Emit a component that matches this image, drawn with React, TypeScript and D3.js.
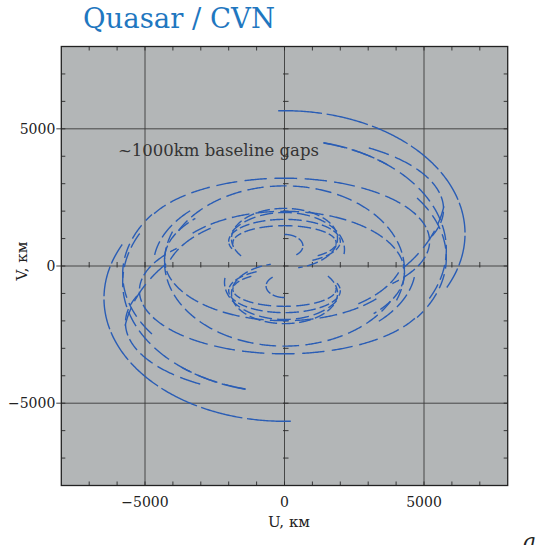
import React from 'react';
import * as d3 from 'd3';

const W = 543;
const H = 545;

const uDomain: [number, number] = [-8000, 8000];
const vDomain: [number, number] = [-8000, 8000];
const gridValues = [-5000, 0, 5000];
const tickLabels = ['\u22125000', '0', '5000'];
const minorStep = 1000;

const titleText = 'Quasar / CVN';
const noteText = '~1000km baseline gaps';
const uLabel = 'U, км';
const vLabel = 'V, км';
const panelLetter = 'a';

// uv tracks: u = a sin(h), v = v0 + b cos(h) (km), h = hour angle in degrees;
// each track is also drawn as its conjugate (-u, -v)
const trackA = [6470, 5800, 5760, 5700, 5200, 4300, 4300, 1900, 2000, 1850, 660, 5800, 5800, 4700, 4300, 2150];
const trackB = [4480, 4000, 3960, 2630, 2300, 3070, 2233, 1100, 800, 620, 420, 4430, 3800, 2900, 2380, 1350];
const trackV0 = [1180, 600, 650, 2074, 900, -150, -240, 1000, 900, 850, 730, 2944, 300, 0, -500, 600];
const trackStart = [-2, 14, 14, 32, -64, -62, -50, -125, -110, -95, 0, 100, 55, -82, -72, -60];
const trackEnd = [116, 118, 40, 112, 132, 112, 132, 165, 150, 140, 150, 135, 125, -45, -38, 100];
// scan length and gap between scans (degrees of hour angle)
const trackScan = [14, 8, 9, 9, 9, 8, 9, 14, 14, 16, 40, 9, 8, 10, 10, 13];
const trackGap = [1.5, 2.5, 2, 3, 3, 3, 3, 5, 5, 6, 10, 3, 3, 3, 3, 5];

export default function App() {
  const L = 61.3, R = 507.7, T = 46.5, B = 485.5;
  const x = d3.scaleLinear().domain(uDomain).range([L, R]);
  const y = d3.scaleLinear().domain(vDomain).range([B, T]);
  const line = d3.line<[number, number]>().x(d => x(d[0])).y(d => y(d[1]));
  const rad = Math.PI / 180;

  const segs: string[] = [];
  trackA.forEach((a, i) => {
    const b = trackB[i], v0 = trackV0[i];
    for (let s = trackStart[i]; s < trackEnd[i]; s += trackScan[i] + trackGap[i]) {
      const e = Math.min(s + trackScan[i], trackEnd[i]);
      const hs: number[] = [];
      for (let h = s; h < e; h += 0.5) hs.push(h);
      hs.push(e);
      [1, -1].forEach(sg => {
        const p = line(hs.map(h => [sg * a * Math.sin(h * rad), sg * (v0 + b * Math.cos(h * rad))] as [number, number]));
        if (p) segs.push(p);
      });
    }
  });

  const minor = d3.range(uDomain[0] + minorStep, uDomain[1], minorStep);
  const serif = 'DejaVu Serif';

  return (
    <svg width={W} height={H} style={{ position: 'absolute', left: 0, top: 0 }} fontFamily={serif}>
      <rect x={0} y={0} width={W} height={H} fill="#fff" />
      <text x={83} y={28} fontSize={27.5} fill="#1f77c0">{titleText}</text>
      <defs>
        <clipPath id="plotclip"><rect x={L} y={T} width={R - L} height={B - T} /></clipPath>
      </defs>
      <rect x={L} y={T} width={R - L} height={B - T} fill="#b3b6b7" />
      {gridValues.map(v => (
        <g key={'g' + v}>
          <line x1={x(v)} x2={x(v)} y1={T} y2={B} stroke="#3a3a3a" strokeWidth={0.9} />
          <line x1={L} x2={R} y1={y(v)} y2={y(v)} stroke="#3a3a3a" strokeWidth={0.9} />
        </g>
      ))}
      {minor.map(v => (
        <g key={'t' + v} stroke="#2a2a2a" strokeWidth={0.9}>
          <line x1={x(v)} x2={x(v)} y1={B} y2={B - 4} />
          <line x1={x(v)} x2={x(v)} y1={T} y2={T + 4} />
          <line x1={L} x2={L + 4} y1={y(v)} y2={y(v)} />
          <line x1={R} x2={R - 4} y1={y(v)} y2={y(v)} />
          <line x1={x(v)} x2={x(v)} y1={y(0) + 1.5} y2={y(0) - 4} />
          <line x1={x(0) - 1.5} x2={x(0) + 4} y1={y(v)} y2={y(v)} />
        </g>
      ))}
      {gridValues.map(v => (
        <line key={'mt' + v} x1={L - 5} x2={L} y1={y(v)} y2={y(v)} stroke="#2a2a2a" strokeWidth={0.9} />
      ))}
      <g clipPath="url(#plotclip)" fill="none" stroke="#2a5db5" strokeWidth={1.4} strokeLinecap="butt">
        {segs.map((d, i) => <path key={i} d={d} />)}
      </g>
      <rect x={L} y={T} width={R - L} height={B - T} fill="none" stroke="#222" strokeWidth={1.3} />
      <text x={118} y={156} fontSize={16.5} fill="#333">{noteText}</text>
      {gridValues.map((v, i) => (
        <text key={'xl' + v} x={x(v)} y={507} fontSize={14} textAnchor="middle" fill="#222">{tickLabels[i]}</text>
      ))}
      {gridValues.map((v, i) => (
        <text key={'yl' + v} x={L - 6} y={y(v) + 5} fontSize={14} textAnchor="end" fill="#222">{tickLabels[i]}</text>
      ))}
      <text x={289} y={527} fontSize={15} textAnchor="middle" fill="#222">{uLabel}</text>
      <text transform={`translate(27,261) rotate(-90)`} fontSize={15} textAnchor="middle" fill="#222">{vLabel}</text>
      <text x={523} y={549} fontSize={22} fontStyle="italic" fill="#222">{panelLetter}</text>
    </svg>
  );
}
